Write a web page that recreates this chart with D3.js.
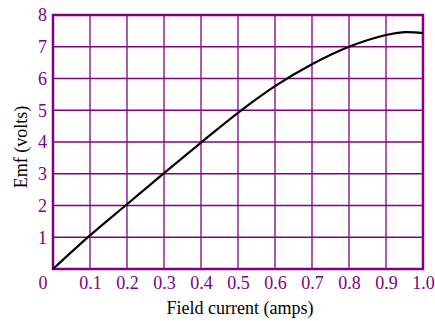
<!DOCTYPE html>
<html>
<head>
<meta charset="utf-8">
<script src="https://cdn.jsdelivr.net/npm/d3@7"></script>
<style>
  html, body { margin: 0; padding: 0; background: #fff; }
  svg { display: block; }
</style>
</head>
<body>
<script>
// Data
const fieldCurrent = [0, 0.1, 0.2, 0.3, 0.4, 0.5, 0.6, 0.7, 0.8, 0.9, 0.95, 1.0];
const emfVolts     = [0, 1.06, 2.04, 3.02, 3.98, 4.92, 5.76, 6.45, 7.0, 7.37, 7.46, 7.43];
const xTicks = [0.1, 0.2, 0.3, 0.4, 0.5, 0.6, 0.7, 0.8, 0.9, 1.0];
const yTicks = [1, 2, 3, 4, 5, 6, 7, 8];
const xTitle = "Field current (amps)";
const yTitle = "Emf (volts)";

const W = 435, H = 321;
const margin = { left: 53, right: 12, top: 15, bottom: 52 };
const purple = "#800080";
const font = "'Liberation Serif', 'Times New Roman', serif";

const svg = d3.select("body").append("svg").attr("width", W).attr("height", H);

const x = d3.scaleLinear().domain([0, 1]).range([margin.left, W - margin.right]);
const y = d3.scaleLinear().domain([0, 8]).range([H - margin.bottom, margin.top]);

// Grid
const g = svg.append("g");
g.selectAll("line.v").data(xTicks.slice(0, -1)).join("line")
  .attr("x1", d => x(d)).attr("x2", d => x(d))
  .attr("y1", y(0)).attr("y2", y(8))
  .attr("stroke", purple).attr("stroke-width", 1.3);
g.selectAll("line.h").data(yTicks.slice(0, -1)).join("line")
  .attr("x1", x(0)).attr("x2", x(1))
  .attr("y1", d => y(d)).attr("y2", d => y(d))
  .attr("stroke", purple).attr("stroke-width", 1.3);

// Frame
svg.append("rect")
  .attr("x", x(0)).attr("y", y(8))
  .attr("width", x(1) - x(0)).attr("height", y(0) - y(8))
  .attr("fill", "none").attr("stroke", purple).attr("stroke-width", 2.5);

// Axes (labels only)
const xAxis = d3.axisBottom(x).tickValues(xTicks).tickSize(0).tickPadding(0)
  .tickFormat(d3.format(".1f"));
const xa = svg.append("g").attr("transform", `translate(0,${y(0)})`).call(xAxis);
xa.select(".domain").remove();
xa.selectAll("text").attr("dy", null).attr("y", 20)
  .attr("fill", purple).style("font-family", font).style("font-size", "18px");

// Corner "0" label
svg.append("text").attr("x", x(0) - 10).attr("y", y(0) + 20)
  .attr("text-anchor", "middle").attr("fill", purple)
  .style("font-family", font).style("font-size", "18px").text("0");

const yAxis = d3.axisLeft(y).tickValues(yTicks).tickSize(0).tickPadding(6)
  .tickFormat(d3.format("d"));
const ya = svg.append("g").attr("transform", `translate(${x(0)},0)`).call(yAxis);
ya.select(".domain").remove();
ya.selectAll("text").attr("fill", purple).style("font-family", font).style("font-size", "18px");

// Curve
const line = d3.line()
  .x((d, i) => x(fieldCurrent[i]))
  .y(d => y(d))
  .curve(d3.curveCatmullRom.alpha(0.5));
svg.append("path").datum(emfVolts)
  .attr("d", line)
  .attr("fill", "none").attr("stroke", "#000").attr("stroke-width", 2.2);

// Titles
svg.append("text").attr("x", 240).attr("y", 314)
  .attr("text-anchor", "middle").attr("fill", "#000")
  .style("font-family", font).style("font-size", "18px").text(xTitle);

svg.append("text").attr("transform", "translate(27,147) rotate(-90)")
  .attr("text-anchor", "middle").attr("fill", "#000")
  .style("font-family", font).style("font-size", "18px").text(yTitle);
</script>
</body>
</html>
